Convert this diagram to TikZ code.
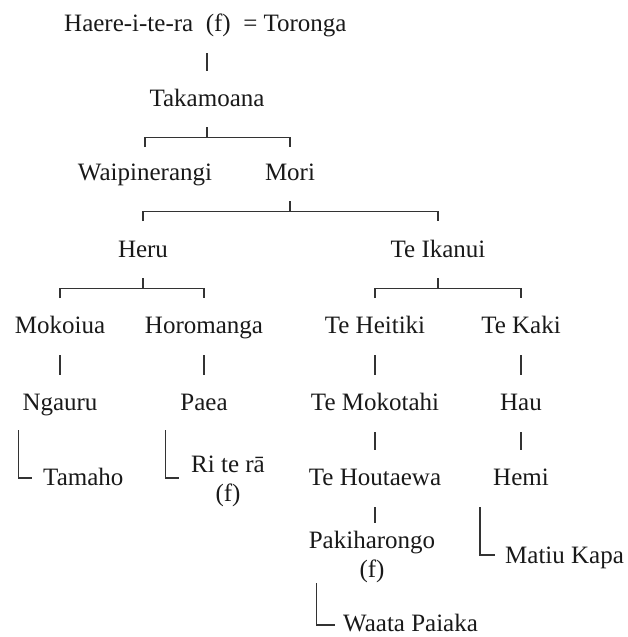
\documentclass[tikz,border=0pt]{standalone}
\usepackage{fontspec}
\setmainfont{Liberation Serif}
\begin{document}
\begin{tikzpicture}[x=1pt,y=-1pt,font=\fontsize{25}{29}\selectfont,
  person/.style={inner sep=0pt,text height=17pt,text depth=5pt,anchor=base,text=black!90},
  pair/.style={inner sep=0pt,anchor=base,align=center,text=black!90},
  line/.style={draw=black!80,line width=1.3pt},
  stem/.style={line,shorten <=17pt,shorten >=18pt}]
\useasboundingbox (0,0) rectangle (627,637);
%\draw[very thin,color=gray,step=50] (0,0) grid (627,637);
\node[person,anchor=base west] (top) at (64,31) {Haere-i-te-ra\ \ (f)\ \ = Toronga};
\node[person] (tak) at (207,106) {Takamoana};
\node[person] (wai) at (145,180) {Waipinerangi};
\node[person] (mori) at (290,180) {Mori};
\node[person] (heru) at (143,257) {Heru};
\node[person] (ika) at (438,257) {Te Ikanui};
\node[person] (mok) at (60,333) {Mokoiua};
\node[person] (hor) at (204,333) {Horomanga};
\node[person] (hei) at (375,333) {Te Heitiki};
\node[person] (kaki) at (521,333) {Te Kaki};
\node[person] (nga) at (60,410) {Ngauru};
\node[person] (paea) at (204,410) {Paea};
\node[person] (moko) at (375,410) {Te Mokotahi};
\node[person] (hau) at (521,410) {Hau};
\node[person,anchor=base west] (tam) at (43,485) {Tamaho};
\node[pair] (rite) at (228,501) {Ri te rā\\(f)};
\node[person] (hou) at (375,485) {Te Houtaewa};
\node[person] (hemi) at (521,485) {Hemi};
\node[pair] (pak) at (372,577) {Pakiharongo\\(f)};
\node[person,anchor=base west] (mat) at (505,563) {Matiu Kapa};
\node[person,anchor=base west,text depth=0pt] (waa) at (343,631) {Waata Paiaka};
% single lines of descent
\draw[stem] (top.south -| tak) -- (tak.north);
\foreach \a/\b in {mok/nga,hor/paea,hei/moko,kaki/hau,moko/hou,hau/hemi}
  \draw[stem] (\a.south) -- (\a.south |- \b.north);
\draw[stem,shorten >=7pt] (hou.south) -- (hou.south |- pak.north);
% sibling brackets
\foreach \p/\l/\r in {tak/wai/mori,mori/heru/ika,heru/mok/hor,ika/hei/kaki}{
  \draw[line] (\p.south) ++(0,16) -- ++(0,10) coordinate (bar);
  \draw[line] (bar -| \l) ++(0,10) -- (bar -| \l) -- (bar -| \r) -- ++(0,10);
}
% later generations
\draw[line] ([xshift=-4pt,yshift=-15pt]nga.south west) |- ([xshift=-11pt,yshift=7pt]tam.base west);
\draw[line] ([xshift=-15pt,yshift=-15pt]paea.south west) |- ([xshift=-12pt,yshift=23pt]rite.base west);
\draw[line] ([xshift=-13pt,yshift=-17pt]hemi.south west) |- ([xshift=-10pt,yshift=8pt]mat.base west);
\draw[line] ([xshift=8pt,yshift=-6pt]pak.base west) |- ([xshift=-8pt,yshift=6pt]waa.base west);
\end{tikzpicture}
\end{document}
